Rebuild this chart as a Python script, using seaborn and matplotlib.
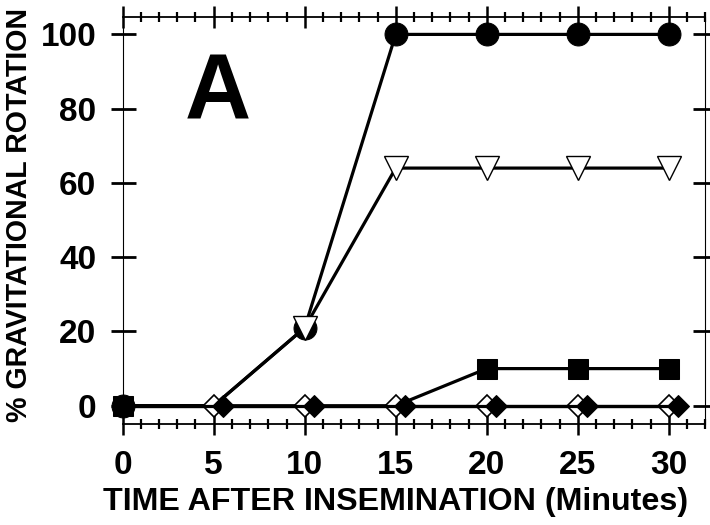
import matplotlib
matplotlib.use("Agg")
import matplotlib.pyplot as plt
from matplotlib.ticker import MultipleLocator
import seaborn as sns

# Time after insemination (minutes) and % gravitational rotation per treatment
minutes = [0, 5, 10, 15, 20, 25, 30]
minutes_shifted = [0, 5.5, 10.5, 15.5, 20.5, 25.5, 30.5]
rot_circle = [0, 0, 21, 100, 100, 100, 100]
rot_triangle = [0, 0, 21, 64, 64, 64, 64]
rot_square = [0, 0, 0, 0, 10, 10, 10]
rot_open_diamond = [0, 0, 0, 0, 0, 0, 0]
rot_filled_diamond = [0, 0, 0, 0, 0, 0, 0]

x_ticks = [0, 5, 10, 15, 20, 25, 30]
y_ticks = [0, 20, 40, 60, 80, 100]

sns.set_style("ticks")
plt.rcParams["font.family"] = ["Liberation Sans", "DejaVu Sans"]
plt.rcParams["font.weight"] = "bold"
for key in ["text.color", "axes.labelcolor", "xtick.color", "ytick.color",
            "axes.edgecolor"]:
    plt.rcParams[key] = "black"

fig = plt.figure(figsize=(7.1, 5.25), dpi=100)
ax = fig.add_axes([0.1728, 0.1918, 0.8204, 0.7752])

lw = 2.3
common = dict(ax=ax, color="black", linewidth=lw, clip_on=False, legend=False)

sns.lineplot(x=minutes, y=rot_circle, marker="o", markersize=16.5,
             markerfacecolor="black", markeredgecolor="black",
             markevery=[0, 2, 3, 4, 5, 6], zorder=3, **common)
sns.lineplot(x=minutes, y=rot_triangle, marker="v", markersize=17,
             markerfacecolor="white", markeredgecolor="black", markeredgewidth=1.0,
             markevery=[2, 3, 4, 5, 6], zorder=4, **common)
sns.lineplot(x=minutes, y=rot_square, marker="s", markersize=14.5,
             markerfacecolor="black", markeredgecolor="black",
             markevery=[0, 4, 5, 6], zorder=5, **common)
sns.lineplot(x=minutes, y=rot_open_diamond, marker="D", markersize=11,
             markerfacecolor="white", markeredgecolor="black", markeredgewidth=1.2,
             markevery=[1, 2, 3, 4, 5, 6], zorder=6, **common)
sns.lineplot(x=minutes_shifted, y=rot_filled_diamond, marker="D", markersize=11.5,
             markerfacecolor="black", markeredgecolor="black", zorder=7, **common)

ax.set_xlim(0, 32)
ax.set_ylim(-5, 104.6)
ax.set_xticks(x_ticks)
ax.set_yticks(y_ticks)
ax.xaxis.set_minor_locator(MultipleLocator(1))

for side in ["left", "right"]:
    ax.spines[side].set_linewidth(0.8)
for side in ["top", "bottom"]:
    ax.spines[side].set_linewidth(1.3)

ax.tick_params(axis="x", which="major", direction="inout", length=16.5, width=1.8,
               top=True, bottom=True, labelsize=24, pad=10)
ax.tick_params(axis="x", which="minor", direction="inout", length=7.5, width=1.6,
               top=True, bottom=True)
ax.tick_params(axis="y", which="major", direction="inout", length=18, width=2.0,
               left=True, right=True, labelsize=24, pad=10)
for lab in ax.get_xticklabels() + ax.get_yticklabels():
    lab.set_fontweight("bold")

ax.set_xlabel("TIME AFTER INSEMINATION (Minutes)", fontsize=23.2, fontweight="bold")
ax.xaxis.set_label_coords(0.469, -0.19)
ax.xaxis.label.set_va("center")
ax.set_ylabel("% GRAVITATIONAL ROTATION", fontsize=20.6, fontweight="bold")
ax.yaxis.set_label_coords(-0.178, 0.515)
ax.yaxis.label.set_va("center")

ax.text(0.107, 0.7526, "A", transform=ax.transAxes, fontsize=66,
        fontweight="bold", ha="left", va="baseline")

fig.savefig("out.png", dpi=100)
